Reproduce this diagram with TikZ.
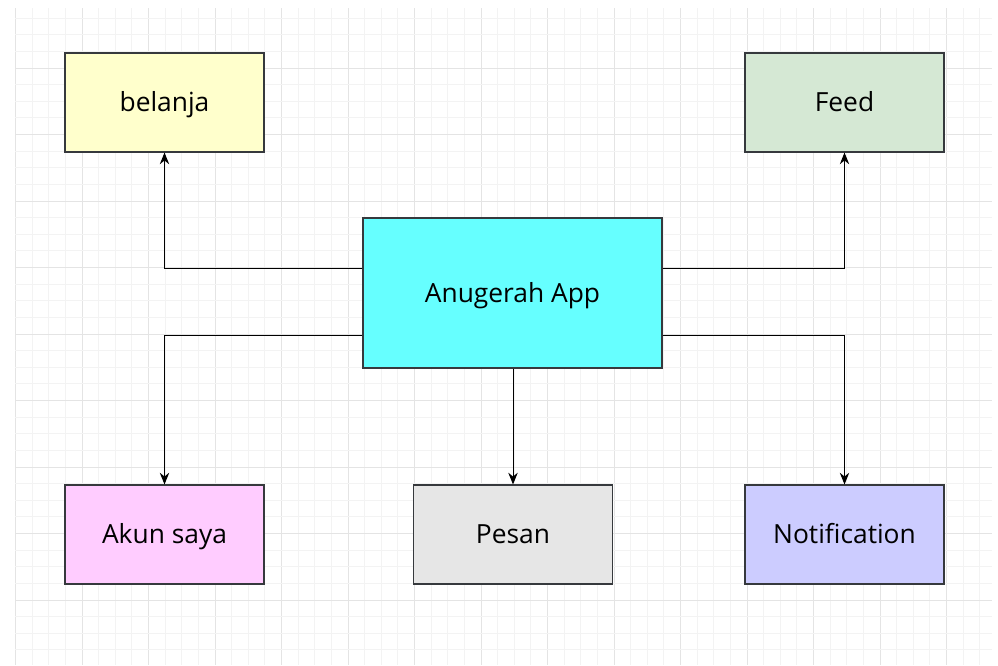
\documentclass[tikz,border=0pt]{standalone}
\usepackage{fontspec}
\setmainfont{Open Sans}
\usetikzlibrary{arrows.meta}
\definecolor{kuning}{HTML}{FFFFCC}
\definecolor{hijau}{HTML}{D5E8D4}
\definecolor{cyan}{HTML}{66FFFF}
\definecolor{pink}{HTML}{FFCCFF}
\definecolor{abu}{HTML}{E6E6E6}
\definecolor{ungu}{HTML}{CCCCFF}
\definecolor{garis}{HTML}{36393D}
\definecolor{gridkecil}{HTML}{F3F3F3}
\definecolor{gridbesar}{HTML}{E4E4E4}
\begin{document}
\begin{tikzpicture}[x=0.03cm, y=-0.03cm,
    kotak/.style={draw=garis, line width=0.9pt, minimum width=5.97cm, minimum height=2.97cm,
      font=\fontsize{22.5}{26}\selectfont, text height=16pt, text depth=0pt},
    panah/.style={draw=black, line width=0.85pt, -{Stealth[length=10pt, width=8pt]}}]
  \useasboundingbox (0,0) rectangle (998,665);
  % grid
  \begin{scope}
    \clip (15,8) rectangle (992,665);
    \foreach \i in {0,...,59} {
      \pgfmathtruncatemacro{\besar}{mod(\i,4)==0}
      \ifnum\besar=1
        \draw[gridbesar, line width=0.8pt] (15.5+\i*16.625,8) -- ++(0,657);
      \else
        \draw[gridkecil, line width=0.8pt] (15.5+\i*16.625,8) -- ++(0,657);
      \fi
    }
    \foreach \j in {0,...,40} {
      \pgfmathtruncatemacro{\besar}{mod(\j,4)==0}
      \ifnum\besar=1
        \draw[gridbesar, line width=0.8pt] (15,1.5+\j*16.625) -- ++(977,0);
      \else
        \draw[gridkecil, line width=0.8pt] (15,1.5+\j*16.625) -- ++(977,0);
      \fi
    }
  \end{scope}

  \node[kotak, fill=cyan, minimum width=8.97cm, minimum height=4.5cm] (app) at (512.5,293) {Anugerah App};
  \node[kotak, fill=kuning] (belanja) at (164.5,102.5) {belanja}; % kiri atas
  \node[kotak, fill=hijau] (feed) at (844.5,102.5) {Feed}; % kanan atas
  \node[kotak, fill=pink] (akun) at (164.5,534.5) {Akun saya}; % kiri bawah
  \node[kotak, fill=abu] (pesan) at (513,534.5) {Pesan}; % tengah bawah
  \node[kotak, fill=ungu] (notif) at (844.5,534.5) {Notification}; % kanan bawah

  \draw[panah] ([yshift=0.75cm]app.west) -| (belanja);
  \draw[panah] ([yshift=0.75cm]app.east) -| (feed);
  \draw[panah] ([yshift=-1.26cm]app.west) -| (akun);
  \draw[panah] ([yshift=-1.26cm]app.east) -| (notif);
  \draw[panah] (app.south -| pesan) -- (pesan);
\end{tikzpicture}
\end{document}
